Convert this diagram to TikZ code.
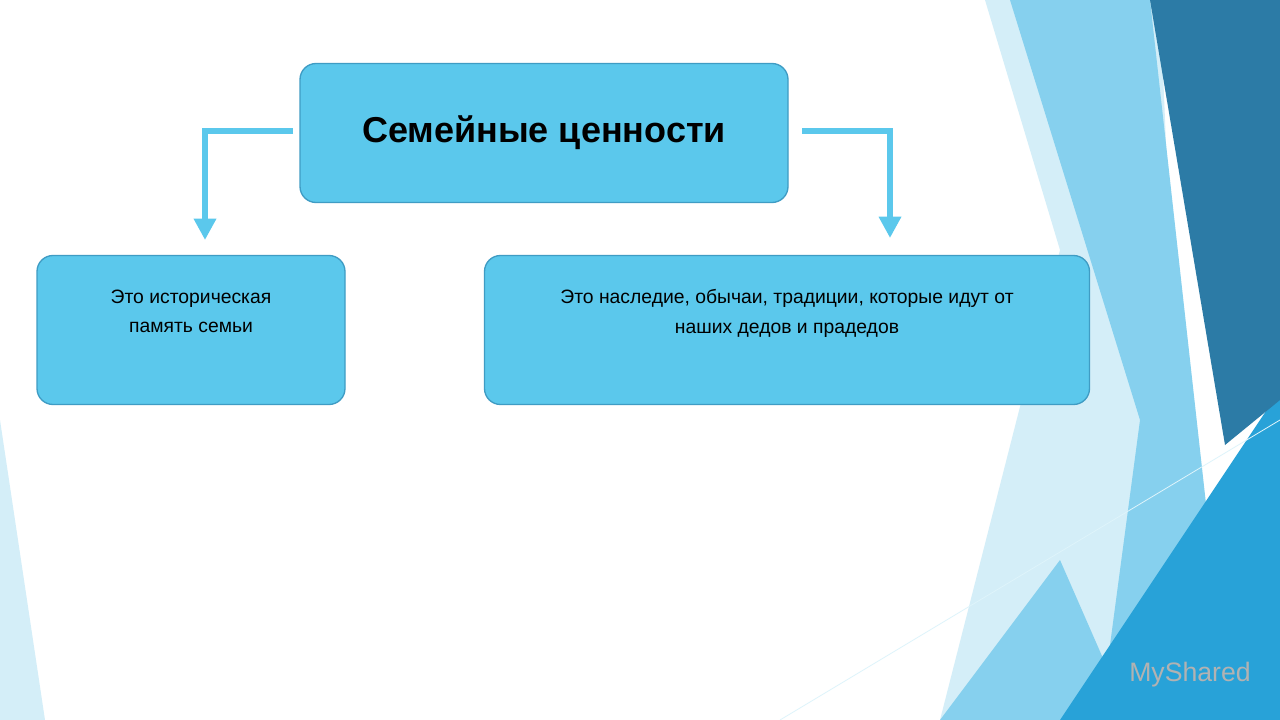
\documentclass[tikz,border=0pt]{standalone}
\usepackage{fontspec}
\setmainfont{Liberation Sans}
\usetikzlibrary{positioning,arrows.meta}
\definecolor{boxblue}{HTML}{5BC8EC}
\definecolor{boxline}{HTML}{3F9CC4}
\definecolor{bgpale}{HTML}{D4EEF8}
\definecolor{bglight}{HTML}{86D0EE}
\definecolor{bgmid}{HTML}{28A2D8}
\definecolor{bgdark}{HTML}{2C7BA6}
\tikzset{
   box/.style={draw=boxline,fill=boxblue,rounded corners=12pt,line width=1pt},
   flow/.style={draw=boxblue,line width=4.5pt,-{Triangle[length=16pt,width=16pt]}}
}
\begin{document}
\begin{tikzpicture}[x=0.75pt,y=-0.75pt]
\useasboundingbox (0,0) rectangle (1280,720);
\fill[white] (0,0) rectangle (1280,720);
% background
\fill[bgpale] (0,420) -- (45,720) -- (0,720) -- cycle;
\fill[bgpale] (985,0) -- (1160,0) -- (1190,720) -- (940,720) -- (1060,250) -- cycle;
\fill[bglight] (1010,0) -- (1150,0) -- (1230,720) -- (1100,720) -- (1140,420) -- cycle;
\fill[bglight] (940,720) -- (1060,560) -- (1130,720) -- cycle;
\fill[bgmid] (1060,720) -- (1280,390) -- (1280,720) -- cycle;
\fill[bgdark] (1150,0) -- (1280,0) -- (1280,400) -- (1225,445) -- cycle;
\draw[white!80!boxblue,line width=0.6pt] (780,720) -- (1280,420);
% boxes
\node[box,minimum width=488pt*0.75,minimum height=139pt*0.75] (title) at (544,133)
   {\fontsize{27}{32}\selectfont\bfseries Семейные ценности};
\node[box,minimum width=308pt*0.75,minimum height=149pt*0.75] (memory) at (191,330) {};
\node[box,minimum width=605pt*0.75,minimum height=149pt*0.75] (heritage) at (787,330) {};
\node[align=center,font=\fontsize{14.5}{22}\selectfont,below=30pt*0.75 of memory.north]
   (memorytext) {Это историческая\\память семьи};
\node[align=center,font=\fontsize{14.5}{22}\selectfont,below=30pt*0.75 of heritage.north]
   (heritagetext) {Это наследие, обычаи, традиции, которые идут от\\наших дедов и прадедов};
% connectors
\coordinate (ls) at (293,131);
\coordinate (le) at (205,240);
\coordinate (rs) at (802,131);
\coordinate (re) at (890,238);
\draw[flow] (ls) -| (le);
\draw[flow] (rs) -| (re);
\node[text=gray!60,font=\fontsize{20}{24}\selectfont] (mark) at (1190,675) {MyShared};
\end{tikzpicture}
\end{document}
